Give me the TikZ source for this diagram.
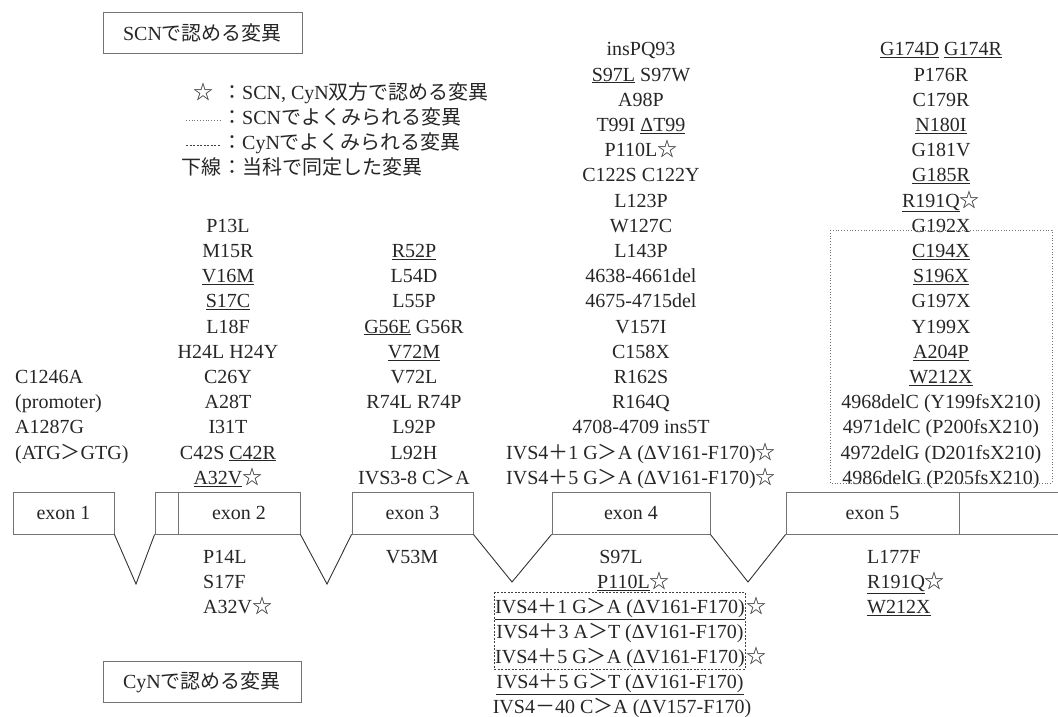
\documentclass[tikz,border=0pt]{standalone}
\usepackage{fontspec}
\setmainfont{Liberation Serif}
\newfontfamily\cjk{Noto Sans CJK JP}
\newcommand\STAR{{\cjk ☆}}
\newcommand\GTc{{\cjk ＞}}
\newcommand\PLc{{\cjk ＋}}
\newcommand\MIc{{\cjk －}}
\newcommand\UL[1]{\underline{#1}}
\newcommand\RB[1]{484.2-(18-#1)*25.2}
\newcommand\BB[1]{563.6+(#1-1)*25}
\begin{document}
\begin{tikzpicture}[x=1pt,y=-1pt,
  every node/.style={font=\fontsize{20}{24}\selectfont, text=black!85},
  lab/.style={anchor=base, inner sep=0pt},
  labl/.style={anchor=base west, inner sep=0pt},
  labr/.style={anchor=base east, inner sep=0pt},
  exonbox/.style={draw=black!55, line width=0.8pt, minimum height=42pt, inner sep=0pt},
  legbox/.style={draw=black!55, line width=0.8pt, minimum height=41pt, inner sep=0pt},
  intron/.style={draw=black!80, line width=0.9pt},
  scnbox/.style={draw=black!55, line width=0.8pt, dotted},
  cynbox/.style={draw=black!75, line width=0.8pt, dashed, dash pattern=on 2pt off 1.5pt}]
\useasboundingbox (0,0) rectangle (1058,716);
% legend boxes
\node[legbox, minimum width=199pt] (scn) at (202.5,32.5) {SCN{\cjk で認める変異}};
\node[legbox, minimum width=198pt] (cyn) at (202,682) {CyN{\cjk で認める変異}};
% legend
\node[labr] (lg1m) at (214,99) {\STAR};
\node[labl] (lg1) at (222,99) {{\cjk ：}SCN, CyN{\cjk 双方で認める変異}};
\coordinate (d1a) at (186,120); \coordinate (d1b) at (220,120);
\draw[scnbox] (d1a) -- (d1b);
\node[labl] (lg2) at (222,124) {{\cjk ：}SCN{\cjk でよくみられる変異}};
\coordinate (d2a) at (186,145); \coordinate (d2b) at (220,145);
\draw[cynbox] (d2a) -- (d2b);
\node[labl] (lg3) at (222,149) {{\cjk ：}CyN{\cjk でよくみられる変異}};
\node[labr] (lg4m) at (222,174) {\cjk 下線};
\node[labl] (lg4) at (222,174) {{\cjk ：当科で同定した変異}};
% exons
\node[exonbox, minimum width=101pt] (e1) at (63.5,513) {exon 1};
\node[exonbox, minimum width=23pt] (e2a) at (166.5,513) {};
\node[exonbox, minimum width=122pt] (e2) at (239,513) {exon 2};
\node[exonbox, minimum width=121pt] (e3) at (412.5,513) {exon 3};
\node[exonbox, minimum width=158pt] (e4) at (631,513) {exon 4};
\node[exonbox, minimum width=173pt] (e5) at (872.5,513) {exon 5};
\node[exonbox, minimum width=104pt] (e6) at (1011,513) {};
\coordinate (i1) at (136,584);
\coordinate (i2) at (327,584);
\coordinate (i3) at (512,582);
\coordinate (i4) at (748,582);
\draw[intron] (e1.south east) -- (i1) -- (e2a.south west);
\draw[intron] (e2.south east) -- (i2) -- (e3.south west);
\draw[intron] (e3.south east) -- (i3) -- (e4.south west);
\draw[intron] (e4.south east) -- (i4) -- (e5.south west);
% column 1
\foreach \t [count=\k from 14] in {C1246A, (promoter), A1287G, (ATG\GTc GTG)}
  \node[labl] (a\k) at (15,{\RB{\k}}) {\t};
% column 2
\foreach \t [count=\k from 8] in {P13L, M15R, \UL{V16M}, \UL{S17C}, L18F, H24L H24Y, C26Y, A28T, I31T, C42S \UL{C42R}, \UL{A32V}\STAR}
  \node[lab] (b\k) at (228,{\RB{\k}}) {\t};
% column 3
\foreach \t [count=\k from 9] in {\UL{R52P}, L54D, L55P, \UL{G56E} G56R, \UL{V72M}, V72L, R74L R74P, L92P, L92H, IVS3-8 C\GTc A}
  \node[lab] (c\k) at (414,{\RB{\k}}) {\t};
% column 4
\foreach \t [count=\k] in {insPQ93, \UL{S97L} S97W, A98P, T99I \UL{ΔT99}, P110L\STAR, C122S C122Y, L123P, W127C, L143P, 4638-4661del, 4675-4715del, V157I, C158X, R162S, R164Q, 4708-4709 ins5T, IVS4\PLc1 G\GTc A (ΔV161-F170)\STAR, IVS4\PLc5 G\GTc A (ΔV161-F170)\STAR}
  \node[lab] (d\k) at (641,{\RB{\k}}) {\t};
% column 5
\foreach \t [count=\k] in {\UL{G174D} \UL{G174R}, P176R, C179R, \UL{N180I}, G181V, \UL{G185R}, \UL{R191Q}\STAR, G192X, \UL{C194X}, \UL{S196X}, G197X, Y199X, \UL{A204P}, \UL{W212X}, 4968delC (Y199fsX210), 4971delC (P200fsX210), 4972delG (D201fsX210), 4986delG (P205fsX210)}
  \node[lab] (f\k) at (941,{\RB{\k}}) {\t};
\draw[scnbox] (830,230) rectangle (1052,483);
% below exons
\foreach \t [count=\k] in {P14L, S17F, A32V\STAR}
  \node[labl] (g\k) at (203,{\BB{\k}}) {\t};
\node[lab] (h1) at (412,{\BB{1}}) {V53M};
\node[lab] (j1) at (621,{\BB{1}}) {S97L};
\node[labl] (j2) at (597,{\BB{2}}) {\UL{P110L}\STAR};
\node[lab] (j3) at (620,{\BB{3}}) {\UL{IVS4\PLc1 G\GTc A (ΔV161-F170)}};
\node[labl] (j3s) at (746,{\BB{3}}) {\STAR};
\node[lab] (j4) at (620,{\BB{4}}) {IVS4\PLc3 A\GTc T (ΔV161-F170)};
\node[lab] (j5) at (620,{\BB{5}}) {IVS4\PLc5 G\GTc A (ΔV161-F170)};
\node[labl] (j5s) at (746,{\BB{5}}) {\STAR};
\node[lab] (j6) at (620,{\BB{6}}) {\UL{IVS4\PLc5 G\GTc T (ΔV161-F170)}};
\node[lab] (j7) at (622,{\BB{7}}) {IVS4\MIc40 C\GTc A (ΔV157-F170)};
\draw[cynbox] (494,592) rectangle (745,669);
\foreach \t [count=\k] in {L177F, \UL{R191Q}\STAR, \UL{W212X}}
  \node[labl] (k\k) at (867,{\BB{\k}}) {\t};
\end{tikzpicture}
\end{document}
